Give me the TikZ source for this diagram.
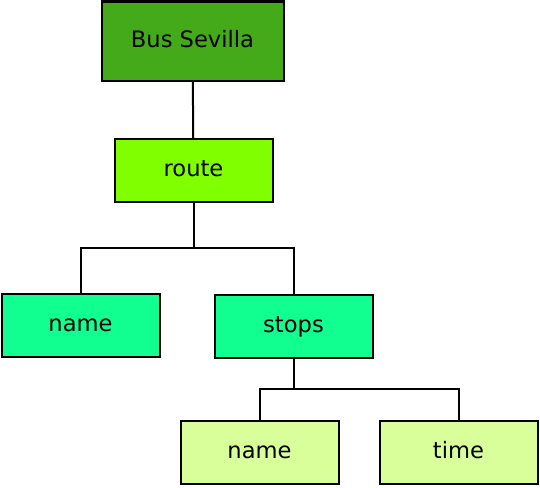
\documentclass[tikz,border=0pt]{standalone}
\usepackage{fontspec}
\setmainfont{DejaVu Sans}
\definecolor{busgreen}{HTML}{44AA1A}
\definecolor{routegreen}{HTML}{80FF00}
\definecolor{midgreen}{HTML}{10FF90}
\definecolor{leafgreen}{HTML}{D8FF99}
\begin{document}
\begin{tikzpicture}[x=0.5pt, y=-0.5pt, line width=1pt,
    box/.style={draw=black, rectangle, minimum width=79pt, minimum height=31.5pt, inner sep=0pt, text height=1.6ex, text depth=0.45ex, font=\fontsize{11.3}{13}\selectfont}]
    \useasboundingbox (0,0) rectangle (540,487);

    % Root and route
    \node[box, fill=busgreen, minimum width=91pt, minimum height=39.5pt] (bus) at (192.5, 41) {Bus Sevilla};
    \node[box, fill=routegreen] (route) at (193.5, 170.5) {route};

    % Children of route
    \node[box, fill=midgreen] (name) at (80.5, 325) {name};
    \node[box, fill=midgreen] (stops) at (293.5, 326) {stops};

    % Children of stops
    \node[box, fill=leafgreen] (stopname) at (259.5, 452) {name};
    \node[box, fill=leafgreen] (time) at (458.5, 452) {time};

    % Connectors
    \coordinate (routefork) at (193.5, 248);
    \coordinate (stopsfork) at (293.5, 389);
    \draw (bus) -- (route);
    \draw (route) -- (routefork) -| (name);
    \draw (routefork) -| (stops);
    \draw (stops) -- (stopsfork) -| (stopname);
    \draw (stopsfork) -| (time);
\end{tikzpicture}
\end{document}
